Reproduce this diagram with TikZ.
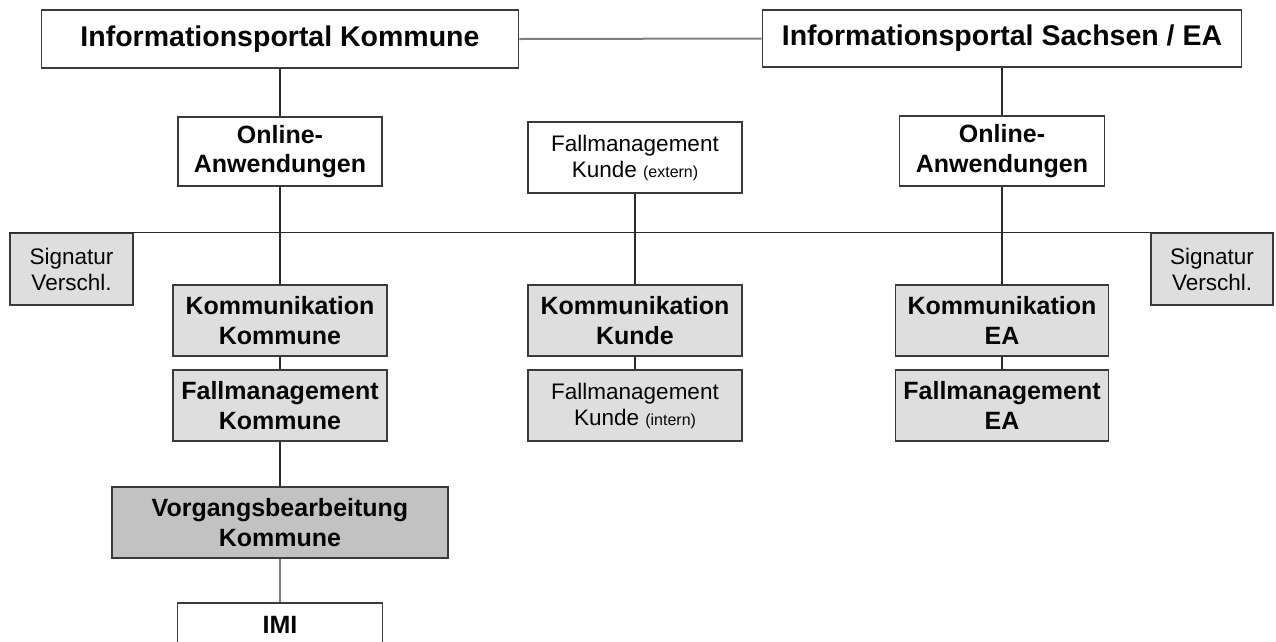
\documentclass[tikz,border=0pt]{standalone}
\usepackage{fontspec}
\setmainfont{Liberation Sans}
\definecolor{edge}{HTML}{3A3A3A}
\definecolor{lightfill}{HTML}{DEDEDE}
\definecolor{darkfill}{HTML}{C2C2C2}
\definecolor{ink}{HTML}{050505}
\definecolor{wire}{HTML}{2A2A2A}
\definecolor{softwire}{HTML}{808080}
\begin{document}
\begin{tikzpicture}[x=1pt,y=-1pt,
  box/.style={draw=edge,line width=1.6pt,fill=white,inner sep=0pt,align=center,text=ink},
  graybox/.style={box,fill=lightfill},
  darkbox/.style={box,fill=darkfill},
  bigtext/.style={font=\bfseries\fontsize{28.5}{32}\selectfont},
  midtext/.style={font=\bfseries\fontsize{25}{29.5}\selectfont},
  plaintext/.style={font=\fontsize{22.5}{26}\selectfont},
  link/.style={draw=wire,line width=1.3pt},
  softlink/.style={draw=softwire,line width=2pt}]
\clip (0,0) rectangle (1276,641);
\fill[white] (0,0) rectangle (1276,641);

% portals
\node[box,bigtext,minimum width=477,minimum height=58] (ipk) at (280,39) {Informationsportal Kommune};
\node[box,bigtext,minimum width=479,minimum height=57] (ips) at (1002,38.5) {Informationsportal Sachsen / EA};

% online applications and external case management
\node[box,midtext,minimum width=204,minimum height=69] (onl) at (280,151.5) {Online-\\Anwendungen};
\node[box,midtext,minimum width=205,minimum height=70] (onr) at (1002,151) {Online-\\Anwendungen};
\node[box,plaintext,minimum width=214,minimum height=71] (fmx) at (635,157.5) {Fallmanagement\\Kunde {\fontsize{16}{18}\selectfont(extern)}};

% signature boxes hanging from the bus
\node[graybox,plaintext,minimum width=123,minimum height=72] (sigl) at (71.5,269) {Signatur\\Verschl.};
\node[graybox,plaintext,minimum width=122,minimum height=72] (sigr) at (1212,269) {Signatur\\Verschl.};

% communication layer
\node[graybox,midtext,minimum width=214,minimum height=71] (kk) at (280,320.5) {Kommunikation\\Kommune};
\node[graybox,midtext,minimum width=214,minimum height=71] (kc) at (635,320.5) {Kommunikation\\Kunde};
\node[graybox,midtext,minimum width=213,minimum height=71] (kea) at (1002,320.5) {Kommunikation\\EA};

% case management layer
\node[graybox,midtext,minimum width=214,minimum height=71] (fk) at (280,405.5) {Fallmanagement\\Kommune};
\node[graybox,plaintext,minimum width=214,minimum height=71] (fi) at (635,405.5) {Fallmanagement\\Kunde {\fontsize{16}{18}\selectfont(intern)}};
\node[graybox,midtext,minimum width=213,minimum height=71] (fea) at (1002,405.5) {Fallmanagement\\EA};

% processing and IMI
\node[darkbox,midtext,minimum width=336,minimum height=71] (vk) at (280,522.5) {Vorgangsbearbeitung\\Kommune};
\node[box,midtext,minimum width=205,minimum height=70,text height=30pt,text depth=40pt] (imi) at (280,638) {IMI};

% connectors
\draw[softlink] (ipk.east) -- (ips.west);
\draw[link] (ipk.south) -- (onl.north);
\draw[link] (ips.south) -- (onr.north);
\draw[link] (sigl.north west) -- (sigr.north east);
\draw[link] (onl.south) -- (kk.north);
\draw[link] (fmx.south) -- (kc.north);
\draw[link] (onr.south) -- (kea.north);
\draw[link] (kk.south) -- (fk.north);
\draw[link] (kc.south) -- (fi.north);
\draw[link] (kea.south) -- (fea.north);
\draw[link] (fk.south) -- (vk.north);
\draw[softlink] (vk.south) -- (imi.north);
\end{tikzpicture}
\end{document}
